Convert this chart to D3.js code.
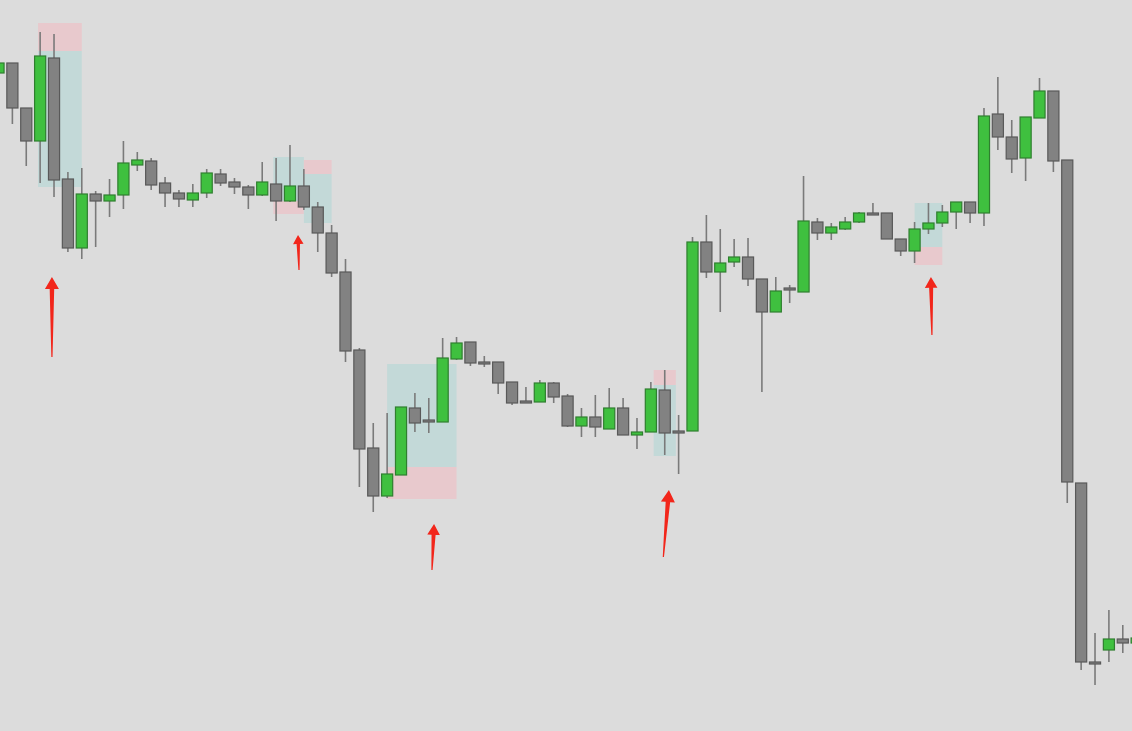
<!DOCTYPE html>
<html lang="en">
<head>
<meta charset="UTF-8">
<title>Candles</title>
<style>
    html, body { margin: 0; padding: 0; background: #dcdcdc; overflow: hidden; }
    svg { display: block; }
</style>
</head>
<body>
<svg id="chart"></svg>

<script src="https://d3js.org/d3.v7.min.js"></script>
<script>
    // Bars (one value per bar, left to right)
    var open  = [727,737,692,659,742,621,552,606,599,605,635,639,617,607,600,607,626,618,613,605,
                 616,599,614,593,567,528,450,352,304,325,392,380,378,441,458,438,438,418,399,398,
                 417,404,374,383,371,392,365,368,410,369,369,558,528,538,543,521,488,512,508,578,
                 567,571,578,587,587,561,549,571,577,588,598,587,686,663,642,682,709,640,317,138,
                 150,161,157];
    var high  = [740,737,692,768,766,628,632,609,621,659,648,642,623,610,616,631,631,622,615,638,
                 642,655,631,598,575,541,452,377,387,393,407,402,462,463,458,444,438,418,413,420,
                 418,406,392,405,412,402,382,418,430,385,563,585,571,561,562,521,523,515,624,582,
                 577,583,588,597,587,561,578,597,595,598,598,692,723,680,683,722,709,640,317,167,
                 190,175,170];
    var low   = [724,676,634,617,603,548,541,553,583,591,629,610,593,593,593,602,614,606,591,604,
                 579,598,590,548,523,438,313,288,302,325,368,367,378,440,434,433,406,395,397,398,
                 397,373,363,363,371,365,351,368,345,326,369,522,488,533,514,408,488,497,508,560,
                 560,570,577,585,561,544,537,566,573,571,577,574,650,627,619,682,628,297,130,115,
                 138,147,152];
    var close = [737,692,659,744,620,552,606,599,605,637,640,615,607,601,607,627,617,613,605,618,
                 599,614,593,567,527,449,351,304,326,393,377,378,442,457,437,437,417,397,397,417,
                 403,374,383,373,392,365,368,411,367,367,558,528,537,543,521,488,509,511,579,567,
                 573,578,587,585,561,549,571,577,588,598,587,684,663,641,683,709,639,318,138,136,
                 161,157,162];

    // Position boxes: bar range, entry, stop and target prices
    var zoneFrom   = [2.85, 19.8, 22.0, 28.0, 47.2, 66.0];
    var zoneTo     = [6.0, 22.0, 24.0, 33.0, 48.8, 68.0];
    var zoneEntry  = [749, 599, 626, 333, 415, 553];
    var zoneStop   = [777, 586, 640, 301, 430, 535];
    var zoneTarget = [613, 643, 577, 436, 344, 597];

    // Red arrows: bar position and price of tip and tail
    var arrowTipX  = [3.85, 21.58, 31.38, 48.3, 67.18];
    var arrowTipY  = [523, 565, 276, 310, 523];
    var arrowTailX = [3.85, 21.65, 31.23, 47.9, 67.25];
    var arrowTailY = [443, 530, 230, 243, 465];
    var arrowSize  = [1.0, 0.75, 0.9, 1.0, 0.9];

    var width = 1132, height = 731;

    var svg = d3.select("#chart")
        .attr("width", width)
        .attr("height", height);

    svg.append("rect")
        .attr("width", width)
        .attr("height", height)
        .attr("fill", "#dcdcdc");

    // Scales
    var x = d3.scaleLinear()
        .domain([0, 82])
        .range([-1.5, -1.5 + 13.88 * 82]);

    var y = d3.scaleLinear()
        .domain([69, 800])
        .range([height, 0]);

    var step = x(1) - x(0);
    var bodyW = step * 0.8;

    var bars = open.map(function (o, i) {
        return { i: i, o: o, h: high[i], l: low[i], c: close[i], up: close[i] > o };
    });

    // Position boxes, behind the candles
    var zones = svg.append("g").attr("class", "zones");

    zoneFrom.forEach(function (z, k) {
        var x0 = x(z), x1 = x(zoneTo[k]);
        var e = zoneEntry[k], s = zoneStop[k], t = zoneTarget[k];
        zones.append("rect")
            .attr("x", x0)
            .attr("width", x1 - x0)
            .attr("y", y(Math.max(e, t)))
            .attr("height", Math.abs(y(e) - y(t)))
            .attr("fill", "#c3d9d8");
        zones.append("rect")
            .attr("x", x0)
            .attr("width", x1 - x0)
            .attr("y", y(Math.max(e, s)))
            .attr("height", Math.abs(y(e) - y(s)))
            .attr("fill", "#e8c9cd");
    });

    // Candles
    var candles = svg.append("g").attr("class", "candles");

    candles.selectAll("line")
        .data(bars)
        .enter()
        .append("line")
        .attr("x1", d => x(d.i))
        .attr("x2", d => x(d.i))
        .attr("y1", d => y(d.h))
        .attr("y2", d => y(d.l))
        .attr("stroke", "#7a7a7a")
        .attr("stroke-width", 1.6);

    candles.selectAll("rect")
        .data(bars)
        .enter()
        .append("rect")
        .attr("x", d => x(d.i) - bodyW / 2)
        .attr("y", d => y(Math.max(d.o, d.c)))
        .attr("width", bodyW)
        .attr("height", d => Math.max(2, Math.abs(y(d.o) - y(d.c))))
        .attr("fill", d => d.up ? "#3fc03f" : "#828282")
        .attr("stroke", d => d.up ? "#2f7f2f" : "#595959")
        .attr("stroke-width", 1.2);

    // Arrows
    var arrows = svg.append("g").attr("class", "arrows");

    arrowTipX.forEach(function (tx, k) {
        var px = x(tx), py = y(arrowTipY[k]);
        var bx = x(arrowTailX[k]), by = y(arrowTailY[k]);
        var len = Math.hypot(px - bx, py - by);
        var ux = (px - bx) / len, uy = (py - by) / len;
        var nx = -uy, ny = ux;
        var s = arrowSize[k];
        var headL = 12 * s, headW = 14 * s, shaftW = 4.5 * s;
        var hx = px - ux * headL, hy = py - uy * headL;
        var pts = [
            [px, py],
            [hx + nx * headW / 2, hy + ny * headW / 2],
            [hx + nx * shaftW / 2, hy + ny * shaftW / 2],
            [bx + nx * 0.6, by + ny * 0.6],
            [bx - nx * 0.6, by - ny * 0.6],
            [hx - nx * shaftW / 2, hy - ny * shaftW / 2],
            [hx - nx * headW / 2, hy - ny * headW / 2]
        ];
        arrows.append("polygon")
            .attr("points", pts.map(p => p.join(",")).join(" "))
            .attr("fill", "#f2261b");
    });
</script>
</body>
</html>
